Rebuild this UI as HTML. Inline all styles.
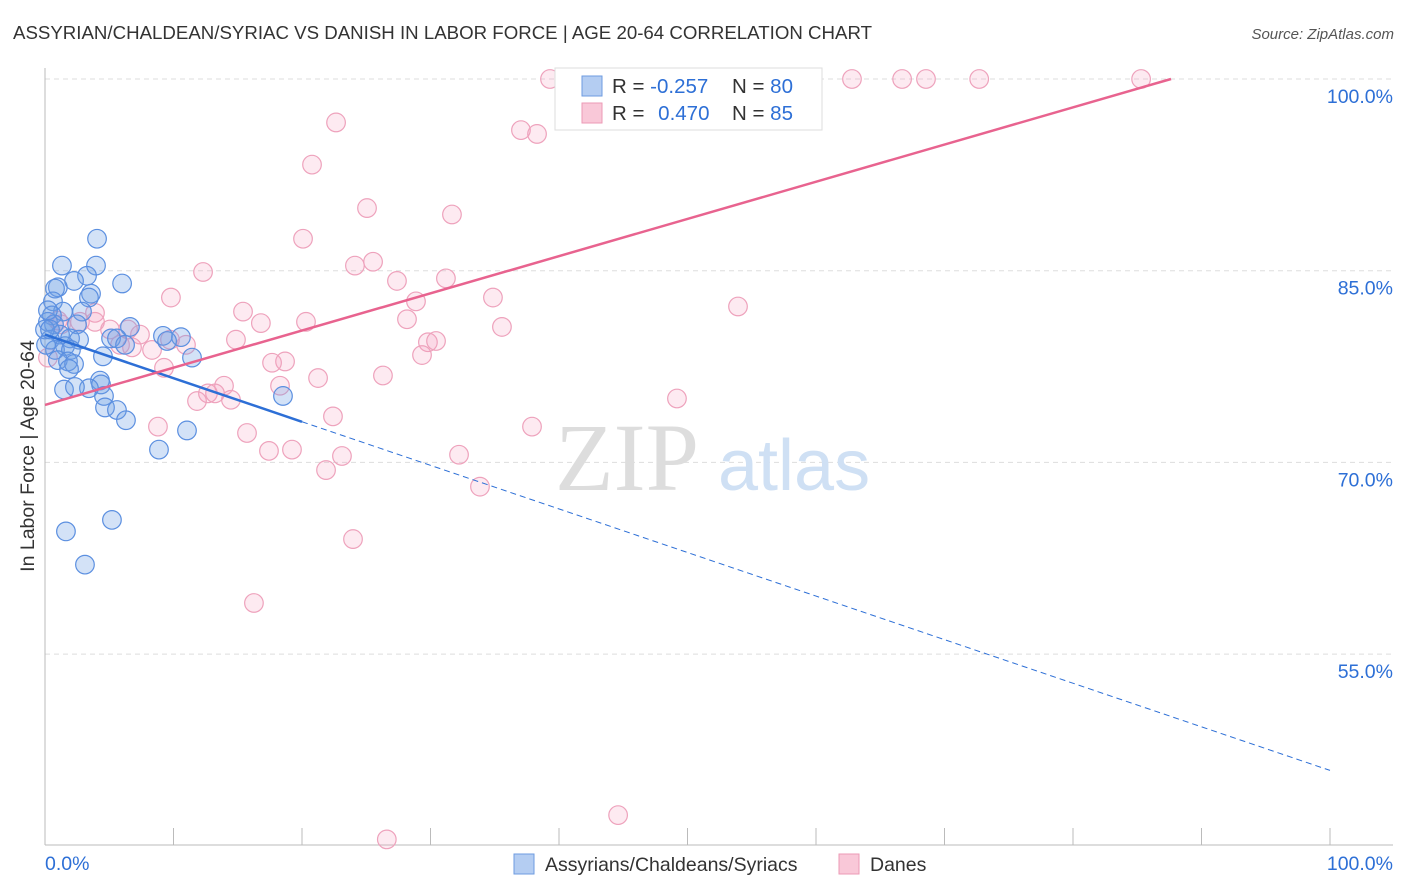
<!DOCTYPE html>
<html><head><meta charset="utf-8"><style>
body{margin:0;background:#fff;font-family:"Liberation Sans",sans-serif;}
svg{display:block}
</style></head><body>
<svg width="1406" height="892" xmlns="http://www.w3.org/2000/svg">
<text x="13" y="39" font-size="18" fill="#333" textLength="859" lengthAdjust="spacingAndGlyphs">ASSYRIAN/CHALDEAN/SYRIAC VS DANISH IN LABOR FORCE | AGE 20-64 CORRELATION CHART</text>
<text x="1394" y="39" font-size="15" fill="#555" font-style="italic" text-anchor="end">Source: ZipAtlas.com</text>
<text x="0" y="0" transform="translate(34,456) rotate(-90)" font-size="19.5" fill="#333" text-anchor="middle">In Labor Force | Age 20-64</text>
<g id="grid"></g>
<g><text x="555" y="490" font-family="Liberation Serif" font-size="96" fill="#ddd">ZIP</text><text x="718" y="490" font-size="72" fill="#cfe0f4">atlas</text></g>
<g id="pts"></g>
<g id="lines"></g>
<g>
<rect x="555" y="68" width="267" height="62" fill="#fff" stroke="#ddd"/>
<rect x="582" y="76" width="20" height="20" fill="#b4cdf2" stroke="#6e9be0"/>
<rect x="582" y="103" width="20" height="20" fill="#f9c8d8" stroke="#ec9ab6"/>
<text x="612" y="93" font-size="20.5" fill="#333">R = <tspan fill="#2d6fd6">-0.257</tspan></text>
<text x="732" y="93" font-size="20.5" fill="#333">N = <tspan fill="#2d6fd6">80</tspan></text>
<text x="612" y="120" font-size="20.5" fill="#333">R = <tspan fill="#2d6fd6" dx="8">0.470</tspan></text>
<text x="732" y="120" font-size="20.5" fill="#333">N = <tspan fill="#2d6fd6">85</tspan></text>
</g>
<g>
<rect x="514" y="854" width="20" height="20" fill="#b4cdf2" stroke="#6e9be0"/>
<text x="545" y="871" font-size="19.5" fill="#333">Assyrians/Chaldeans/Syriacs</text>
<rect x="839" y="854" width="20" height="20" fill="#f9c8d8" stroke="#ec9ab6"/>
<text x="870" y="871" font-size="19.5" fill="#333">Danes</text>
</g>
<text x="45" y="870" font-size="19.5" fill="#2d6fd6">0.0%</text>
<text x="1393" y="870" font-size="19.5" fill="#2d6fd6" text-anchor="end">100.0%</text>
</svg>
<script>
const yTicks=[100,85,70,55];
const yTickLabels=["100.0%","85.0%","70.0%","55.0%"];
const xTicks=[0,10,20,30,40,50,60,70,80,90,100];
const blueX=[4.05,3.97,1.32,6.0,3.27,2.26,1.0,0.78,3.58,3.42,0.62,1.4,2.88,0.54,0.23,0.7,2.49,6.61,9.18,10.58,1.17,1.95,2.65,5.14,5.6,9.5,6.23,0.39,1.56,0.78,2.02,4.51,11.44,1.0,1.79,2.26,1.87,4.28,4.36,3.42,1.48,2.33,4.59,4.67,5.6,6.3,18.52,11.05,8.87,5.21,1.63,3.11,0,0.23,0.08,0.39];
const blueY=[87.5,85.4,85.4,84.0,84.6,84.2,83.7,83.6,83.2,82.9,82.6,81.8,81.8,81.5,81.0,80.8,80.8,80.6,79.9,79.8,80.0,79.7,79.6,79.7,79.7,79.5,79.2,79.6,79.1,78.8,78.8,78.3,78.2,78.0,77.9,77.7,77.3,76.4,76.1,75.8,75.7,75.9,75.2,74.3,74.1,73.3,75.2,72.5,71.0,65.5,64.6,62.0,80.4,81.9,79.2,80.4];
const pinkX=[39.3,52.45,62.8,66.7,68.56,72.7,85.3,47.86,41.3,37.04,38.29,22.65,20.78,25.06,31.67,20.08,24.12,25.53,12.3,31.2,27.39,9.8,34.86,28.87,15.41,16.8,20.31,35.56,28.17,53.93,3.89,1.25,6.46,1.0,2.72,14.86,29.8,30.43,29.34,9.73,10.97,8.33,6.77,0.23,18.68,17.67,9.26,21.25,26.3,13.93,18.29,12.68,11.83,13.23,14.47,49.18,22.41,37.9,15.72,8.79,17.43,19.22,23.11,32.22,21.87,33.85,23.97,16.26,44.6,26.6,3.89,5.06,7.39,5.84];
const pinkY=[100,100,100,100,100,100,100,100,99.3,96.0,95.7,96.6,93.3,89.9,89.4,87.5,85.4,85.7,84.9,84.4,84.2,82.9,82.9,82.6,81.8,80.9,81.0,80.6,81.2,82.2,81.7,80.8,80.4,81.1,81.0,79.6,79.4,79.5,78.4,79.6,79.2,78.8,79.0,78.2,77.9,77.8,77.4,76.6,76.8,76.0,76.0,75.4,74.8,75.4,74.9,75.0,73.6,72.8,72.3,72.8,70.9,71.0,70.5,70.6,69.4,68.1,64.0,59.0,42.4,40.5,81.0,80.4,80.0,79.2];
const blueLine=[80.0,45.9];   // y at x=0 and x=100
const pinkLine=[74.5,0.291];  // intercept, slope
const NS="http://www.w3.org/2000/svg";
const X=v=>45+v*12.85, Y=v=>79+(100-v)*12.78;
function mk(t,a,p){const e=document.createElementNS(NS,t);for(const k in a)e.setAttribute(k,a[k]);p.appendChild(e);return e;}
const grid=document.getElementById('grid');
yTicks.forEach((t,i)=>{
 const l=mk('line',{x1:45,x2:1393,y1:Y(t),y2:Y(t),stroke:'#ddd','stroke-dasharray':'5,4'},grid);
 
 
 const tx=mk('text',{x:1393,y:Y(t)+24,'font-size':19.5,fill:'#2d6fd6','text-anchor':'end'},grid);
 tx.textContent=yTickLabels[i];
 
 
});
const ax=mk('line',{x1:45,x2:45,y1:68,y2:845,stroke:'#bbb'},grid);


const bx=mk('line',{x1:45,x2:1393,y1:845,y2:845,stroke:'#bbb'},grid);


xTicks.forEach(t=>{
 const l=mk('line',{x1:X(t),x2:X(t),y1:828,y2:845,stroke:'#bbb'},grid);
 
 
});
const pts=document.getElementById('pts');
pinkX.forEach((v,i)=>{
 const c=mk('circle',{cx:X(v),cy:Y(pinkY[i]),r:9.3,fill:'rgba(244,160,190,0.22)',stroke:'#eea2bc','stroke-width':1.2},pts);
 
 
});
blueX.forEach((v,i)=>{
 const c=mk('circle',{cx:X(v),cy:Y(blueY[i]),r:9.3,fill:'rgba(110,160,230,0.3)',stroke:'#5b8fe0','stroke-width':1.2},pts);
 
 
});
const lines=document.getElementById('lines');
const bY=x=>blueLine[0]+(blueLine[1]-blueLine[0])*x/100;
const b1=mk('line',{x1:X(0),y1:Y(bY(0)),x2:X(20),y2:Y(bY(20)),stroke:'#2d6fd6','stroke-width':2.5},lines);


const b2=mk('line',{x1:X(20),y1:Y(bY(20)),x2:X(100),y2:Y(bY(100)),stroke:'#2d6fd6','stroke-width':1,'stroke-dasharray':'6,4'},lines);


const pEnd=(100-pinkLine[0])/pinkLine[1];
const p1=mk('line',{x1:X(0),y1:Y(pinkLine[0]),x2:X(pEnd),y2:Y(100),stroke:'#e8638f','stroke-width':2.5},lines);


</script>
</body></html>
